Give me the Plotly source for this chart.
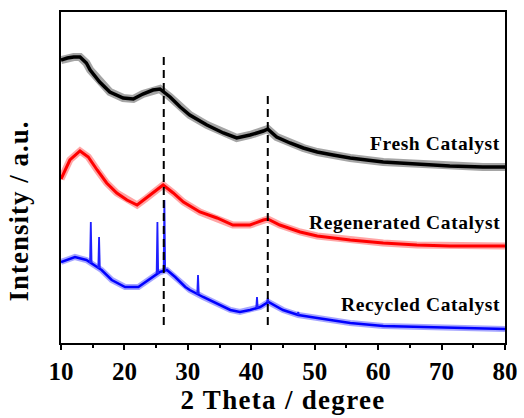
import numpy as np
import plotly.graph_objects as go

# ---- data (2θ in degrees, intensity in arbitrary units) ----
fresh_x = [10, 11, 12, 13, 14, 14.6, 16.1, 17.7, 19.8, 21.4, 22.9, 24.5, 25.6, 27.2, 28.8,
           30.3, 33, 35.6, 37.7, 39.8, 41.9, 42.6, 44, 46.1, 48.2, 50.4, 52.9, 55.6,
           60.8, 66.1, 71.3, 76.5, 80]
fresh_y = [283, 285, 286, 286, 280, 273, 261, 251, 245, 244, 249, 253, 254, 246, 236,
           228, 218, 210, 205, 208, 212, 214, 206, 200, 195, 191, 188, 185,
           181, 179, 177, 176, 176]

regen_x = [10, 11.4, 13, 14.3, 15.7, 17.2, 18.8, 20.4, 22, 23.5, 25.1, 26.1, 27.7, 29.3,
           31.9, 34.6, 37.1, 39.8, 41.9, 42.6, 44.5, 47.7, 50.4, 55.6, 60.8, 66.1, 71.3, 80]
regen_y = [164, 183, 192, 186, 173, 160, 150, 143, 138, 145, 153, 158, 150, 141,
           131, 125, 118, 118, 123, 124, 118, 111, 107, 103, 100, 98, 97, 97]

# broad background of the recycled catalyst
recyc_x = [10, 12.2, 14, 16.4, 18, 20.1, 22.2, 23.7, 24.8, 25.6, 26.7, 28, 29.6, 30.3,
           32.4, 34.5, 36.7, 38.2, 39.8, 41.4, 42.7, 45, 47.4, 50.4, 55.6, 60.8, 66.1,
           71.3, 80]
recyc_y = [81, 86, 83, 73, 63, 56, 56, 63, 68, 71, 73, 66, 56, 53,
           46, 40, 33, 31, 33, 36, 41, 33, 28, 25, 20, 17, 16, 15, 14]
# sharp reflections of the recycled catalyst (position, peak top)
sharp_x = [14.7, 16.0, 25.2, 26.3, 31.6, 40.9, 42.6, 47.4]
sharp_y = [121, 106, 121, 143, 68, 46, 45, 31]

dash_pos = [26.2, 42.6]
dash_top = [289, 251]
dash_bottom = 18

labels = ["Fresh Catalyst", "Regenerated Catalyst", "Recycled Catalyst"]
label_y = [200, 121, 39]
label_x = 79.5

tick_vals = [10, 20, 30, 40, 50, 60, 70, 80]

FONT = "Liberation Serif, Times New Roman, serif"


def spaced(t, px):
    return '<span style="letter-spacing:%spx">%s</span>' % (px, t)


fig = go.Figure()
# each pattern: a soft wide band (noise envelope) plus a solid core
for xs, ys, col, band, core in [(fresh_x, fresh_y, "#000000", 8, 3.5),
                                (regen_x, regen_y, "#ff0000", 7, 3),
                                (recyc_x, recyc_y, "#0000ff", 6, 2.5)]:
    fig.add_trace(go.Scatter(x=xs, y=ys, mode="lines", opacity=0.35,
                             line=dict(color=col, width=band), showlegend=False))
    fig.add_trace(go.Scatter(x=xs, y=ys, mode="lines",
                             line=dict(color=col, width=core), showlegend=False))

# sharp peaks as thin spikes rising from the background
base = np.interp(sharp_x, recyc_x, recyc_y)
sx, sy = [], []
for xp, b, top in zip(sharp_x, base, sharp_y):
    sx += [xp - 0.12, xp, xp + 0.12, None]
    sy += [b, top, b, None]
fig.add_trace(go.Scatter(x=sx, y=sy, mode="lines", connectgaps=False,
                         line=dict(color="#1f1fff", width=1.8), showlegend=False))

for xp, yt in zip(dash_pos, dash_top):
    fig.add_trace(go.Scatter(x=[xp, xp], y=[dash_bottom, yt], mode="lines",
                             line=dict(color="#000000", width=2, dash="8px,5px"),
                             showlegend=False))

for txt, yy in zip(labels, label_y):
    fig.add_annotation(x=label_x, y=yy, xref="x", yref="y", text=spaced(txt, 0.6),
                       showarrow=False, xanchor="right", yanchor="middle",
                       font=dict(family=FONT, size=19.5, color="#000", weight="bold"))

fig.add_annotation(x=-0.095, y=0.4, xref="paper", yref="paper",
                   text=spaced("Intensity / a.u.", 1), textangle=-90, showarrow=False,
                   xanchor="center", yanchor="middle",
                   font=dict(family=FONT, size=27, color="#000", weight="bold"))

fig.update_xaxes(range=[10, 80], tickvals=tick_vals, ticks="outside", ticklen=5,
                 tickwidth=1.5, tickcolor="#000", showline=True, linecolor="#000",
                 linewidth=2, mirror=True, showgrid=False, zeroline=False,
                 automargin=False,
                 minor=dict(ticks="outside", ticklen=3, tickwidth=1.5, tickcolor="#000",
                            dtick=5, tick0=5),
                 tickfont=dict(family=FONT, size=25, color="#000", weight="bold"),
                 title=dict(text=spaced("2 Theta / degree", 1.3), standoff=6,
                            font=dict(family=FONT, size=27, color="#000", weight="bold")))
fig.update_yaxes(range=[0, 331], showticklabels=False, ticks="", showline=True,
                 linecolor="#000", linewidth=2, mirror=True, showgrid=False,
                 zeroline=False, automargin=False)

fig.update_layout(width=524, height=418, margin=dict(l=61, r=19, t=12, b=75),
                  plot_bgcolor="white", paper_bgcolor="white")

fig.write_html("out.html")
